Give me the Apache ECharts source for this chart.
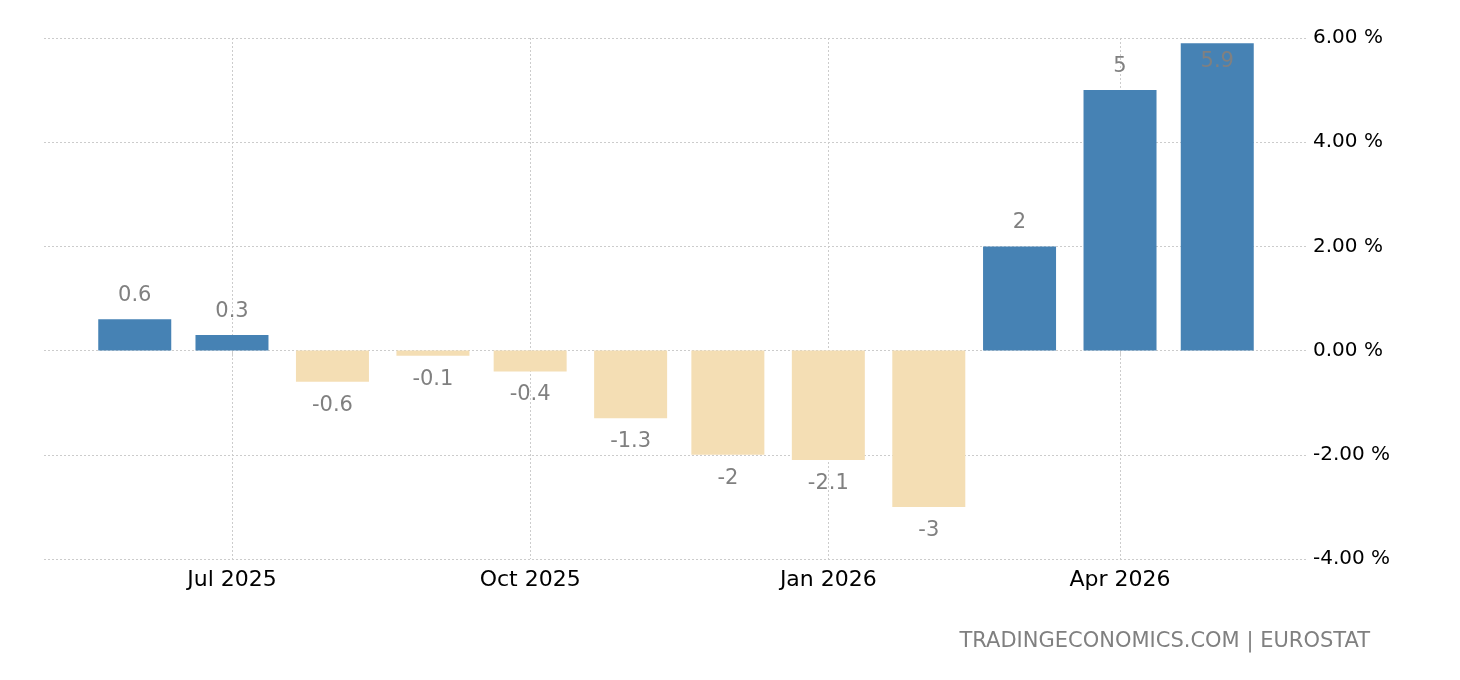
<!DOCTYPE html>
<html>
<head>
<meta charset="utf-8">
<script src="https://cdn.jsdelivr.net/npm/echarts@6/dist/echarts.min.js"></script>
<style>
  html, body { margin: 0; padding: 0; background: #fff; }
  #chart { width: 1460px; height: 680px; }
</style>
</head>
<body>
<div id="chart"></div>
<script>
var months = ['2025-06-01', '2025-07-01', '2025-08-01', '2025-09-01', '2025-10-01', '2025-11-01',
  '2025-12-01', '2026-01-01', '2026-02-01', '2026-03-01', '2026-04-01', '2026-05-01'];
var values = [0.6, 0.3, -0.6, -0.1, -0.4, -1.3, -2, -2.1, -3, 2, 5, 5.9];
var quarterTicks = ['2025-07-01', '2025-10-01', '2026-01-01', '2026-04-01'];
var quarterLabels = ['Jul 2025', 'Oct 2025', 'Jan 2026', 'Apr 2026'];

var chartDom = document.getElementById('chart');
var myChart = echarts.init(chartDom);
var font = 'DejaVu Sans';

function ts(d) { return +new Date(d + 'T00:00:00Z'); }
var tickTimes = quarterTicks.map(ts);

var option = {
  animation: false,
  textStyle: { fontFamily: font },
  grid: { left: 44, right: 152, top: 38, bottom: 121 },
  xAxis: {
    // dates as timestamps on a value axis so ticks can sit on quarter starts
    type: 'value',
    min: ts('2025-05-04'),
    max: ts('2026-05-29'),
    axisLine: { show: false },
    axisTick: {
      show: true,
      customValues: tickTimes,
      length: 6,
      lineStyle: { color: '#cccccc' }
    },
    axisLabel: {
      customValues: tickTimes,
      margin: 10,
      fontSize: 22,
      color: '#000',
      fontFamily: font,
      formatter: function (v) {
        var i = tickTimes.indexOf(v);
        return i >= 0 ? quarterLabels[i] : '';
      }
    },
    splitLine: {
      show: true,
      lineStyle: { color: '#cccccc', type: [2, 2], width: 1 }
    }
  },
  yAxis: {
    type: 'value',
    position: 'right',
    min: -4,
    max: 6,
    interval: 2,
    axisLine: { show: false },
    axisTick: { show: false },
    axisLabel: {
      margin: 5,
      fontSize: 20,
      color: '#000',
      fontFamily: font,
      padding: [3, 0, 0, 0],
      formatter: function (v) { return v.toFixed(2) + ' %'; }
    },
    splitLine: {
      lineStyle: { color: '#cccccc', type: [2, 2], width: 1 }
    }
  },
  series: [
    {
      type: 'bar',
      barWidth: 73,
      data: months.map(function (m, i) {
        var v = values[i];
        var item = {
          value: [ts(m), v],
          itemStyle: { color: v >= 0 ? '#4682b4' : '#f4deb4' },
          label: { position: v >= 0 ? 'top' : 'bottom' }
        };
        if (v > 5.5) item.label = { position: 'insideTop', distance: 8 };
        return item;
      }),
      label: {
        show: true,
        distance: 13,
        fontSize: 21,
        color: '#808080',
        fontFamily: font,
        formatter: function (p) { return String(p.value[1]); }
      }
    }
  ],
  graphic: [
    {
      type: 'text',
      right: 90,
      top: 631,
      style: {
        text: 'TRADINGECONOMICS.COM | EUROSTAT',
        fontSize: 21,
        fontFamily: font,
        fill: '#808080'
      }
    }
  ]
};

myChart.setOption(option);
</script>
</body>
</html>
